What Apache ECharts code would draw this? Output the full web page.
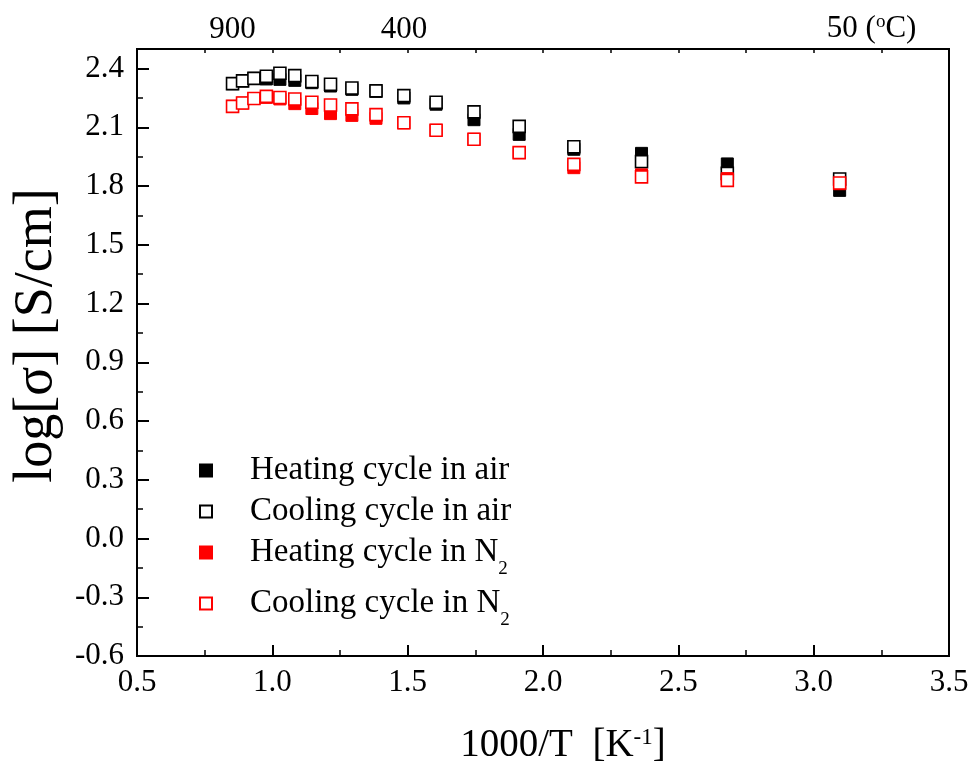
<!DOCTYPE html>
<html>
<head>
<meta charset="utf-8">
<script src="https://cdn.jsdelivr.net/npm/echarts@6/dist/echarts.min.js"></script>
<style>
html,body{margin:0;padding:0;background:#fff;}
#chart{width:973px;height:770px;}
</style>
</head>
<body>
<div id="chart"></div>
<script>
// 1000/T values (K^-1) of the measuring temperatures
var invT = [0.853, 0.890, 0.932, 0.978, 1.028, 1.083, 1.146, 1.215, 1.294, 1.383, 1.486, 1.605, 1.745, 1.912, 2.114, 2.364, 2.681, 3.096];
// log(sigma) values
var heatAir = [2.323, 2.337, 2.350, 2.347, 2.345, 2.340, 2.328, 2.311, 2.294, 2.284, 2.250, 2.218, 2.139, 2.064, 1.988, 1.967, 1.913, 1.778];
var coolAir = [2.323, 2.337, 2.350, 2.361, 2.376, 2.364, 2.334, 2.320, 2.301, 2.286, 2.262, 2.228, 2.179, 2.105, 2.001, 1.925, 1.865, 1.836];
var heatN2  = [2.207, 2.224, 2.247, 2.253, 2.245, 2.221, 2.196, 2.170, 2.161, 2.146, 2.123, 2.085, 2.039, 1.971, 1.894, 1.857, 1.838, 1.812];
var coolN2  = [2.207, 2.224, 2.247, 2.258, 2.252, 2.245, 2.228, 2.214, 2.194, 2.165, 2.123, 2.085, 2.039, 1.971, 1.911, 1.847, 1.829, 1.816];
// top temperature axis (deg C) and their 1000/T positions
var tempPos = [0.8525, 1.486, 3.096];
var tempLabels = ['900', '400', '50'];
var seriesNames = ['Heating cycle in air', 'Cooling cycle in air', 'Heating cycle in N2', 'Cooling cycle in N2'];
var xTicks = [0.5, 3.5, 0.5];   // min, max, interval
var yTicks = [-0.6, 2.5, 0.3];

var FONT = '"Liberation Serif","Times New Roman",serif';
function pairs(ys){ return invT.map(function(x,i){ return [x, ys[i]]; }); }

var chart = echarts.init(document.getElementById('chart'), null, {renderer:'canvas'});
var option = {
  backgroundColor: '#fff',
  animation: false,
  grid: {left:137, right:24, top:49, bottom:114, outerBoundsMode:'none', containLabel:false,
         show:true, borderColor:'#000', borderWidth:2, backgroundColor:'transparent'},
  xAxis: [
    {type:'value', position:'bottom', min:xTicks[0], max:xTicks[1], interval:xTicks[2],
     axisLine:{show:true, onZero:false, lineStyle:{color:'#000', width:2}},
     axisTick:{show:true, inside:true, length:11, lineStyle:{color:'#000', width:2}},
     minorTick:{show:true, splitNumber:2, length:6, lineStyle:{color:'#000', width:1.5}},
     splitLine:{show:false},
     axisLabel:{margin:11, color:'#000', fontFamily:FONT, fontSize:31, formatter:function(v){return v.toFixed(1);}},
     name:'1000/T  [K{sup|-1}]', nameLocation:'middle', nameGap:70,
     nameTextStyle:{color:'#000', fontFamily:FONT, fontSize:39, padding:[0,0,0,40],
       rich:{sup:{fontFamily:FONT, fontSize:23, color:'#000', verticalAlign:'top', padding:[0,0,14,0]}}}
    },
    {type:'value', position:'top', min:xTicks[0], max:xTicks[1], interval:0.25,
     axisLine:{show:false, onZero:false}, axisTick:{show:true, inside:true, length:4, lineStyle:{color:'#000', width:1.5}},
     splitLine:{show:false}, axisLabel:{show:false}
    },
    {type:'value', position:'top', min:xTicks[0], max:xTicks[1],
     axisLine:{show:false, onZero:false}, axisTick:{show:false}, splitLine:{show:false},
     axisLabel:{show:true, customValues:tempPos, margin:4, color:'#000', fontFamily:FONT, fontSize:31,
       formatter:function(v){
         var i = tempPos.indexOf(v);
         var t = i>=0 ? tempLabels[i] : '';
         if (i === tempPos.length-1) return '{pad| }' + t + ' ({sup|o}C)';
         return t;
       },
       rich:{pad:{width:64, fontSize:31, fontFamily:FONT}, sup:{fontSize:19, fontFamily:FONT, color:'#000', verticalAlign:'top', padding:[0,0,13,0]}}
     }
    }
  ],
  yAxis: [
    {type:'value', position:'left', min:yTicks[0], max:yTicks[1], interval:yTicks[2],
     axisLine:{show:true, onZero:false, lineStyle:{color:'#000', width:2}},
     axisTick:{show:true, inside:true, length:12, lineStyle:{color:'#000', width:2}},
     splitLine:{show:false},
     axisLabel:{margin:13, color:'#000', fontFamily:FONT, fontSize:31, showMaxLabel:false, formatter:function(v){return v.toFixed(1);}},
     name:'log[σ] [S/cm]', nameLocation:'middle', nameGap:73,
     nameTextStyle:{color:'#000', fontFamily:FONT, fontSize:54, padding:[0,0,0,34]}
    },
    {type:'value', position:'left', min:yTicks[0], max:yTicks[1], interval:0.15,
     axisLine:{show:false, onZero:false}, axisTick:{show:true, inside:true, length:6, lineStyle:{color:'#000', width:1.5}},
     splitLine:{show:false}, axisLabel:{show:false}
    }
  ],
  legend: {
    show:true, orient:'vertical', left:194, top:449, itemWidth:12, itemHeight:12, itemGap:8,
    data: seriesNames.map(function(n){return {name:n, icon:'rect'};}),
    formatter:function(n){
      if (n.slice(-2)==='N2') return '{t|' + n.slice(0,-1) + '}{sub|2}';
      return '{t|' + n + '}';
    },
    textStyle:{color:'#000', fontFamily:FONT, fontSize:33, padding:[0,0,0,33],
      rich:{
        t:{fontFamily:FONT, fontSize:33, lineHeight:33, color:'#000', verticalAlign:'top'},
        sub:{fontFamily:FONT, fontSize:19, lineHeight:19, color:'#000', verticalAlign:'top', padding:[24,0,0,0]}
      }}
  },
  series: [
    {name:seriesNames[0], type:'scatter', symbol:'rect', symbolSize:12, data:pairs(heatAir), z:1,
     itemStyle:{color:'#000', borderColor:'#000', borderWidth:1, opacity:1}},
    {name:seriesNames[1], type:'scatter', symbol:'rect', symbolSize:12, data:pairs(coolAir), z:2,
     itemStyle:{color:'#fff', borderColor:'#000', borderWidth:1.6, opacity:1}},
    {name:seriesNames[2], type:'scatter', symbol:'rect', symbolSize:12, data:pairs(heatN2), z:3,
     itemStyle:{color:'#ff0000', borderColor:'#ff0000', borderWidth:1, opacity:1}},
    {name:seriesNames[3], type:'scatter', symbol:'rect', symbolSize:12, data:pairs(coolN2), z:4,
     itemStyle:{color:'#fff', borderColor:'#ff0000', borderWidth:1.6, opacity:1}}
  ]
};
chart.setOption(option);
</script>
</body>
</html>
